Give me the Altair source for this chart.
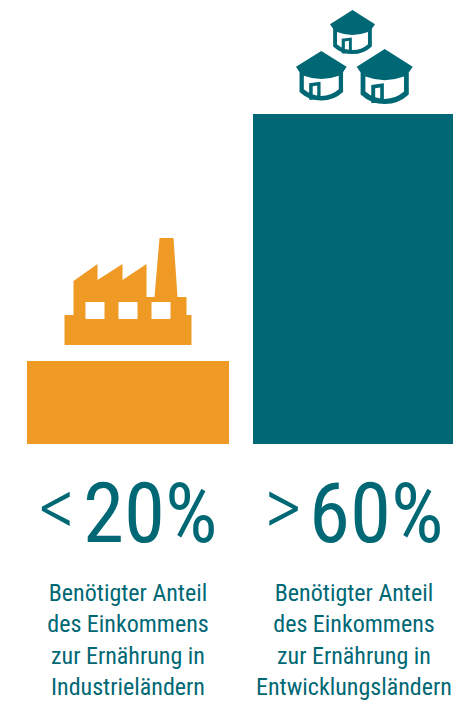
import altair as alt
import pandas as pd

# Chart values
regions = ["Industrieländer", "Entwicklungsländer"]
shares = [20, 60]
signs = ["<", ">"]
headlines = ["20%", "60%"]
caption_lines = [
    ["Benötigter Anteil", "des Einkommens", "zur Ernährung in", "Industrieländern"],
    ["Benötigter Anteil", "des Einkommens", "zur Ernährung in", "Entwicklungsländern"],
]

TEAL = "#006875"
ORANGE = "#F09A26"
FONT = "Roboto Condensed"
CANVAS_W, CANVAS_H = 453, 702
LINE_BASELINES = [601, 632, 664, 695]


def unit_path(subpaths, cx, cy, half):
    """Scale polygons given in local units into the -1..1 box symbol paths use."""
    out = []
    for poly in subpaths:
        pts = [f"{(x - cx) / half:.4f},{(y - cy) / half:.4f}" for x, y in poly]
        out.append("M" + "L".join(pts) + "Z")
    return "".join(out)


# Factory silhouette, clockwise; window cut-outs run the other way round
factory_outline = [
    (0, 107), (0, 77), (9, 77), (9, 43), (33, 26), (33, 42), (58, 26), (58, 42),
    (82, 26), (82, 59), (90, 59), (95, 0), (109, 0), (113, 59), (122, 59),
    (122, 77), (127, 77), (127, 107),
]
factory_windows = [
    [(x0, 64), (x0, 81), (x1, 81), (x1, 64)]
    for x0, x1 in [(21, 40), (54, 73), (87, 106)]
]
FACTORY = unit_path([factory_outline] + factory_windows, 63.5, 53.5, 63.5)

# Round hut in -1..1 units: roof and body, wall cut-out, door frame, door opening
HUT = (
    "M0,-0.98L1,-0.35L0.86,-0.14L0.86,0.64Q0.5,0.98 0,0.98Q-0.5,0.98 -0.86,0.64"
    "L-0.86,-0.14L-1,-0.35Z"
    "M-0.69,0L-0.69,0.54Q-0.4,0.8 0,0.8Q0.4,0.8 0.69,0.54L0.69,0"
    "Q0,0.26 -0.69,0Z"
    "M-0.48,0.3L-0.03,0.24L-0.03,0.95L-0.48,0.95Z"
    "M-0.34,0.42L-0.34,0.92L-0.16,0.92L-0.16,0.39Z"
)

bars_df = pd.DataFrame({"region": regions, "share": shares})
heads_df = pd.DataFrame({"region": regions, "sign": signs, "headline": headlines})
captions_df = pd.DataFrame(
    [
        {"region": r, "line": text, "row": i}
        for r, lines in zip(regions, caption_lines)
        for i, text in enumerate(lines)
    ]
)

# The second band runs just past the right canvas edge
x_scale = alt.Scale(domain=regions, range=[27, 455], paddingInner=0.1062, paddingOuter=0)
y_scale = alt.Scale(type="pow", exponent=1.2565, domain=[0, 60], range=[444, 114])
x_enc = alt.X("region:N", scale=x_scale, axis=None)

bars = (
    alt.Chart(bars_df)
    .mark_bar(opacity=1)
    .encode(
        x=x_enc,
        y=alt.Y("share:Q", scale=y_scale, axis=None, stack=None),
        y2=alt.datum(0),
        color=alt.Color("region:N", scale=alt.Scale(domain=regions, range=[ORANGE, TEAL]), legend=None),
    )
)

signs_layer = (
    alt.Chart(heads_df)
    .mark_text(font=FONT, fontSize=82, fontWeight=300, color=TEAL, align="center", baseline="alphabetic", dx=-71)
    .encode(x=x_enc, y=alt.value(535), text="sign:N")
)

headline_layer = (
    alt.Chart(heads_df)
    .mark_text(font=FONT, fontSize=83, fontWeight=400, color=TEAL, align="left", baseline="alphabetic", dx=-45)
    .encode(x=x_enc, y=alt.value(542), text="headline:N")
)

caption_layers = [
    alt.Chart(captions_df[captions_df["row"] == i])
    .mark_text(font=FONT, fontSize=24, fontWeight=400, color=TEAL, align="center", baseline="alphabetic")
    .encode(x=x_enc, y=alt.value(base), text="line:N")
    for i, base in enumerate(LINE_BASELINES)
]


def icon(path, cx, cy, half, color):
    """One symbol centred on a pixel position, half units wide either side."""
    return (
        alt.Chart(bars_df.head(1))
        .mark_point(shape=path, size=(2 * half) ** 2, filled=True, fill=color, stroke=None, opacity=1)
        .encode(x=alt.value(cx), y=alt.value(cy))
    )


icons = [
    icon(FACTORY, 128, 291.5, 63.5, ORANGE),
    icon(HUT, 352.5, 32, 22.5, TEAL),
    icon(HUT, 321.3, 75.7, 25.3, TEAL),
    icon(HUT, 384.7, 76.5, 28, TEAL),
]

chart = (
    alt.layer(bars, signs_layer, headline_layer, *caption_layers, *icons)
    .properties(
        width=CANVAS_W,
        height=CANVAS_H,
        padding=0,
        autosize=alt.AutoSizeParams(type="none"),
        background="white",
    )
    .configure_view(stroke=None)
)

chart.save("out.html", embed_options={"renderer": "svg", "actions": False})
